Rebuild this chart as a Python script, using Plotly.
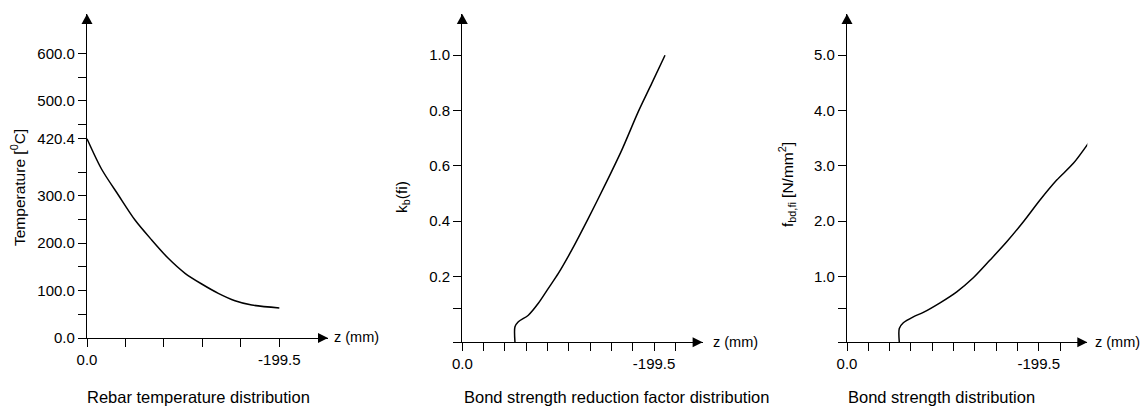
import plotly.graph_objects as go

# ---------------- data ----------------
# Panel 1: rebar temperature distribution
z_temp = [0.0, -15.2, -32.5, -49.8, -67.1, -84.3, -101.7, -119.0, -136.2, -153.5, -170.9, -199.5]
temp = [420.4, 356.0, 301.7, 248.9, 206.8, 168.1, 136.5, 113.9, 94.3, 78.7, 69.6, 63.5]

# Panel 2: bond strength reduction factor k_b(fi)
z_kb = [-54.8, -54.8, -58.3, -68.7, -79.1, -89.5, -99.9, -113.8, -131.1, -148.5, -165.9, -183.1, -197.1, -210.9]
kb = [-0.038, 0.018, 0.036, 0.060, 0.103, 0.157, 0.211, 0.295, 0.410, 0.531, 0.657, 0.796, 0.898, 1.0]

# Panel 3: bond strength f_bd,fi
z_fbd = [-54.4, -54.4, -58.6, -69.0, -79.4, -96.8, -114.2, -131.4, -148.8, -166.2, -183.5, -200.8, -218.2, -235.5, -252.9]
fbd = [-0.19, 0.06, 0.163, 0.271, 0.351, 0.524, 0.723, 0.976, 1.297, 1.627, 1.989, 2.382, 2.743, 3.045, 3.454]

# tick definitions (labelled major ticks + unlabelled minor ticks)
t_tickvals = [0, 100, 200, 300, 420.4, 500, 600]
t_ticktext = ["0.0", "100.0", "200.0", "300.0", "420.4", "500.0", "600.0"]
t_minor = [50, 150, 250, 350, 450, 550]
x1_tickvals = [0, -199.5]
x1_ticktext = ["0.0", "-199.5"]
x1_minor = [-39.9, -79.8, -119.7, -159.6]
x23_tickvals = [0, -199.5]
x23_ticktext = ["0.0", "-199.5"]
x23_minor = [-22.17, -44.33, -66.5, -88.67, -110.83, -133.0, -155.17, -177.33, -221.67]
kb_tickvals = [0.2, 0.4, 0.6, 0.8, 1.0]
kb_ticktext = ["0.2", "0.4", "0.6", "0.8", "1.0"]
kb_minor = [-0.038, 0.086]
f_tickvals = [1.0, 2.0, 3.0, 4.0, 5.0]
f_ticktext = ["1.0", "2.0", "3.0", "4.0", "5.0"]
f_minor = [-0.19, 0.43]

titles = ["Rebar temperature distribution",
          "Bond strength reduction factor distribution",
          "Bond strength distribution"]
ytitles = ["Temperature [<sup>0</sup>C]", "k<sub>b</sub>(fi)", "f<sub>bd,fi</sub> [N/mm<sup>2</sup>]"]
xlabel = "z (mm)"

# ---------------- layout geometry ----------------
W, H = 1141, 406
FONT = "Liberation Sans, Arial, Helvetica, sans-serif"
X_END = -250

def px(x):
    return x / W

def py(y):
    return 1 - y / H

panels = [
    dict(xd=[px(87), px(328)], yd=[py(338), py(14)], yr=[0, 683.5],
         xt=(x1_tickvals, x1_ticktext, x1_minor), yt=(t_tickvals, t_ticktext, t_minor),
         title_x=85, ytitle_pos=(18, 188), zlab=(332, 337)),
    dict(xd=[px(462.3), px(702.6)], yd=[py(342.3), py(14)], yr=[-0.038, 1.149],
         xt=(x23_tickvals, x23_ticktext, x23_minor), yt=(kb_tickvals, kb_ticktext, kb_minor),
         title_x=461.7, ytitle_pos=(402, 197), zlab=(711, 342)),
    dict(xd=[px(847), px(1087.3)], yd=[py(342.3), py(14)], yr=[-0.19, 5.745],
         xt=(x23_tickvals, x23_ticktext, x23_minor), yt=(f_tickvals, f_ticktext, f_minor),
         title_x=846, ytitle_pos=(787, 185), zlab=(1093, 342)),
]

series = [(z_temp, temp), (z_kb, kb), (z_fbd, fbd)]

fig = go.Figure()
shapes = []
annotations = []
for i, (p, (xs, ys)) in enumerate(zip(panels, series)):
    n = "" if i == 0 else str(i + 1)
    xa, ya = "x" + n, "y" + n
    fig.add_trace(go.Scatter(x=xs, y=ys, mode="lines",
                             line=dict(color="black", width=1.5, shape="spline", smoothing=0.8),
                             xaxis=xa, yaxis=ya, showlegend=False, hoverinfo="skip"))
    axis_common = dict(showgrid=False, zeroline=False, showline=True, linecolor="black",
                       linewidth=1.3, ticks="outside", ticklen=8, tickwidth=1.3,
                       tickcolor="black", tickmode="array", automargin=False,
                       tickfont=dict(family=FONT, size=15, color="black"))
    minor_common = dict(ticks="outside", ticklen=8, tickwidth=1.3, tickcolor="black",
                        tickmode="array", showgrid=False)
    fig.update_layout(**{
        "xaxis" + n: dict(domain=p["xd"], range=[0, X_END], anchor=ya,
                          tickvals=p["xt"][0], ticktext=p["xt"][1],
                          minor=dict(tickvals=p["xt"][2], **minor_common), **axis_common),
        "yaxis" + n: dict(domain=p["yd"], range=p["yr"], anchor=xa,
                          tickvals=p["yt"][0], ticktext=p["yt"][1],
                          minor=dict(tickvals=p["yt"][2], **minor_common), **axis_common),
    })
    # arrow heads at axis ends (paper-referenced so they are not clipped)
    shapes.append(dict(type="path", xref="paper", yref="paper", xsizemode="pixel", ysizemode="pixel",
                       xanchor=p["xd"][1], yanchor=p["yd"][0], path="M -10,5 L 0,0 L -10,-5 Z",
                       fillcolor="black", line=dict(width=0)))
    shapes.append(dict(type="path", xref="paper", yref="paper", xsizemode="pixel", ysizemode="pixel",
                       xanchor=p["xd"][0], yanchor=p["yd"][1], path="M -5.5,-10 L 0,0 L 5.5,-10 Z",
                       fillcolor="black", line=dict(width=0)))
    # titles
    annotations.append(dict(text=titles[i], xref="paper", yref="paper", x=px(p["title_x"]),
                            y=py(397), xanchor="left", yanchor="middle", showarrow=False,
                            font=dict(family=FONT, size=16.5, color="black")))
    annotations.append(dict(text=ytitles[i], xref="paper", yref="paper", x=px(p["ytitle_pos"][0]),
                            y=py(p["ytitle_pos"][1]), xanchor="center", yanchor="middle",
                            textangle=-90, showarrow=False,
                            font=dict(family=FONT, size=15.5, color="black")))
    annotations.append(dict(text=xlabel, xref="paper", yref="paper", x=px(p["zlab"][0]),
                            y=py(p["zlab"][1]), xanchor="left", yanchor="middle", showarrow=False,
                            font=dict(family=FONT, size=14.5, color="black")))

fig.update_layout(width=W, height=H,
                  margin=dict(l=0, r=0, t=0, b=0, pad=0, autoexpand=False),
                  paper_bgcolor="white", plot_bgcolor="white",
                  shapes=shapes, annotations=annotations,
                  font=dict(family=FONT, color="black"))

fig.write_html("out.html", config={"displayModeBar": False},
               post_script="document.body.style.margin='0';document.body.style.overflow='hidden';")
